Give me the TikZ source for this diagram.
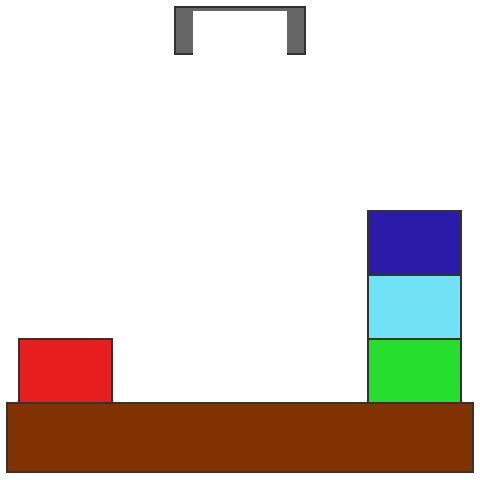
\documentclass[tikz,border=0pt]{standalone}
\usepackage{tikz}
\usetikzlibrary{positioning}

\definecolor{tablebrown}{HTML}{803300}
\definecolor{blockred}{HTML}{E61E1E}
\definecolor{blockgreen}{HTML}{26DE2E}
\definecolor{blockcyan}{HTML}{70E2F5}
\definecolor{blockblue}{HTML}{2B1BA8}
\definecolor{gripgray}{HTML}{666666}
\definecolor{edge}{HTML}{333333}

\begin{document}
\begin{tikzpicture}[x=1pt, y=-1pt, line width=1.6pt,
    block/.style={draw=edge, minimum width=93pt, minimum height=64pt, inner sep=0pt, outer sep=0pt}]
      \useasboundingbox (0,0) rectangle (480,480);
      % table
      \node[draw=edge, fill=tablebrown, minimum width=466pt, minimum height=69pt, inner sep=0pt, outer sep=0pt] (table) at (240,437.5) {};
      % blocks
      \node[block, fill=blockred] (red) at (65.5,371) {};
      \node[block, fill=blockgreen] (green) at (414.5,371) {};
      \node[block, fill=blockcyan, above=0pt of green] (cyan) {};
      \node[block, fill=blockblue, above=0pt of cyan] (blue) {};
      % gripper
      \draw[draw=edge, fill=gripgray] (175,7) rectangle (305,54);
      \fill[white] (193,11) rectangle (287,56);
\end{tikzpicture}
\end{document}
